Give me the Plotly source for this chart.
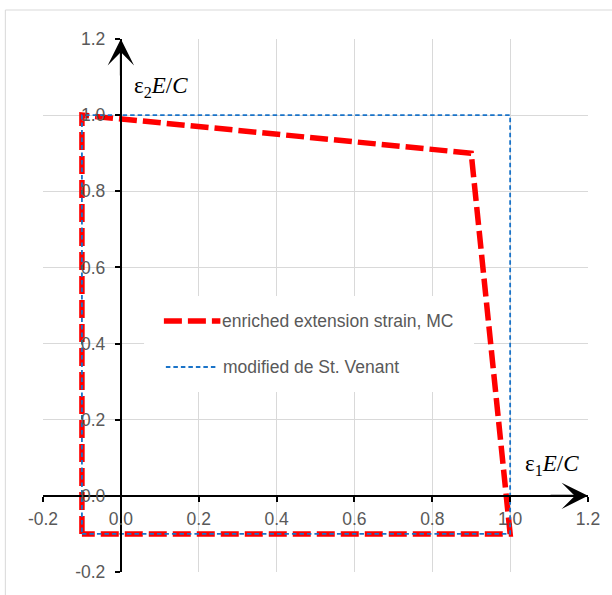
import plotly.graph_objects as go

# ---- data ----
mc_x = [-0.1, -0.1, 0.9, 1.0, -0.1]
mc_y = [-0.1, 1.0, 0.9, -0.1, -0.1]
sv_x = [-0.1, 1.0, 1.0, -0.1, -0.1]
sv_y = [-0.1, -0.1, 1.0, 1.0, -0.1]
tick_vals = [-0.2, 0.0, 0.2, 0.4, 0.6, 0.8, 1.0, 1.2]
tick_labels = ["-0.2", "0.0", "0.2", "0.4", "0.6", "0.8", "1.0", "1.2"]
mc_name = "enriched extension strain, MC"
sv_name = "modified de St. Venant"

RED = "#FF0000"
BLUE = "#1A73C8"
GRID = "#D9D9D9"
TXT = "#595959"
FONT = "Liberation Sans, Arial, sans-serif"
SERIF = "Liberation Serif, Times New Roman, serif"

W, H = 612, 595
ML, MR, MT, MB = 43, 19, 39, 23
PW, PH = W - ML - MR, H - MT - MB


def px(xp):
    return (xp - ML) / PW


def py(yp):
    return (H - MB - yp) / PH


fig = go.Figure()
fig.add_trace(go.Scatter(x=mc_x, y=mc_y, mode="lines", name=mc_name,
                         line=dict(color=RED, width=5.5, dash="18px,6px"),
                         showlegend=False))
fig.add_trace(go.Scatter(x=sv_x, y=sv_y, mode="lines", name=sv_name,
                         line=dict(color=BLUE, width=1.8, dash="4.5px,3px"),
                         showlegend=False))

zero_frac = 0.2 / 1.4
axis_common = dict(
    tickvals=tick_vals, ticktext=tick_labels, showgrid=True, gridcolor=GRID,
    gridwidth=1, zeroline=False, showline=True, linecolor="black", linewidth=2,
    ticks="outside", ticklen=5, tickwidth=1.5, tickcolor="black",
    tickfont=dict(family=FONT, size=17.5, color=TXT), anchor="free",
    position=zero_frac, range=[-0.2, 1.2], fixedrange=True,
)
fig.update_xaxes(**axis_common, ticklabelstandoff=2)
fig.update_yaxes(**axis_common, ticklabelstandoff=6)

shapes = [
    # outer chart border
    dict(type="rect", xref="paper", yref="paper", x0=px(5), x1=px(640),
         y0=py(620), y1=py(10), line=dict(color=GRID, width=1), layer="below"),
    # legend box
    dict(type="rect", xref="paper", yref="paper", x0=px(145), x1=px(478),
         y0=py(392), y1=py(296), line=dict(width=0), fillcolor="white",
         layer="above"),
    dict(type="line", xref="paper", yref="paper", x0=px(165), x1=px(222),
         y0=py(321), y1=py(321), line=dict(color=RED, width=5.5, dash="18px,6px")),
    dict(type="line", xref="paper", yref="paper", x0=px(167), x1=px(219),
         y0=py(367), y1=py(367), line=dict(color=BLUE, width=1.8, dash="4.5px,3px")),
]

annotations = [
    dict(x=1.2, y=0, ax=1.1, ay=0, xref="x", yref="y", axref="x", ayref="y",
         showarrow=True, arrowhead=3, arrowsize=2.2, arrowwidth=2,
         arrowcolor="black", standoff=0, text=""),
    dict(x=0, y=1.2, ax=0, ay=1.1, xref="x", yref="y", axref="x", ayref="y",
         showarrow=True, arrowhead=3, arrowsize=2.2, arrowwidth=2,
         arrowcolor="black", standoff=0, text=""),
    dict(x=px(133), y=py(87), xref="paper", yref="paper", xanchor="left",
         yanchor="middle", showarrow=False,
         text="ε<sub>2</sub><i>E</i>/<i>C</i>",
         font=dict(family=SERIF, size=23, color="black")),
    dict(x=px(527), y=py(465), xref="paper", yref="paper", xanchor="left",
         yanchor="middle", showarrow=False,
         text="ε<sub>1</sub><i>E</i>/<i>C</i>",
         font=dict(family=SERIF, size=23, color="black")),
    dict(x=px(222), y=py(321), xref="paper", yref="paper", xanchor="left",
         yanchor="middle", showarrow=False, text=mc_name,
         font=dict(family=FONT, size=17.5, color=TXT)),
    dict(x=px(223), y=py(367), xref="paper", yref="paper", xanchor="left",
         yanchor="middle", showarrow=False, text=sv_name,
         font=dict(family=FONT, size=17.5, color=TXT)),
]

fig.update_layout(
    width=W, height=H, margin=dict(l=ML, r=MR, t=MT, b=MB),
    paper_bgcolor="white", plot_bgcolor="white",
    shapes=shapes, annotations=annotations, showlegend=False,
)

fig.write_html("out.html", config={"displayModeBar": False})
